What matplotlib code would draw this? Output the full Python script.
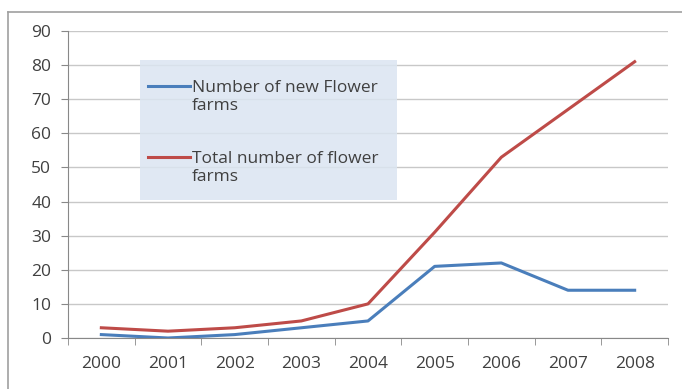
import matplotlib
matplotlib.use("Agg")
import matplotlib.pyplot as plt
from matplotlib.patches import Rectangle
from matplotlib.lines import Line2D
import numpy as np

years = ["2000", "2001", "2002", "2003", "2004", "2005", "2006", "2007", "2008"]
new_farms = [1, 0, 1, 3, 5, 21, 22, 14, 14]
total_farms = [3, 2, 3, 5, 10, 31, 53, 67, 81]
labels = ["Number of new Flower\nfarms", "Total number of flower\nfarms"]
colors = ["#4a7ebb", "#be4b48"]

plt.rcParams['font.family'] = ['Open Sans', 'DejaVu Sans']

W, H = 682, 389
fig = plt.figure(figsize=(W / 100, H / 100), dpi=100)
ax = fig.add_axes([68 / W, 1 - 338 / H, 600 / W, 307 / H])

x = np.arange(len(years))
for vals, col in zip([new_farms, total_farms], colors):
    ax.plot(x, vals, color=col, lw=2.2, zorder=3)

ax.set_xlim(-0.5, len(years) - 0.5)
ax.set_ylim(0, 90)
ax.set_yticks(np.arange(0, 91, 10))
ax.set_xticks(x)
ax.set_xticklabels(years)
ax.set_xticks(np.arange(-0.5, len(years), 1), minor=True)
ax.tick_params(axis="x", which="major", length=0, pad=13, labelsize=12.5, colors="#404040")
ax.tick_params(axis="x", which="minor", length=5, color="#888888")
ax.tick_params(axis="y", length=5, color="#888888", pad=7, labelsize=12.5, colors="#404040")

ax.yaxis.grid(True, color="#c8c8c8", lw=1)
ax.set_axisbelow(True)
for side in ("top", "right"):
    ax.spines[side].set_visible(False)
for side in ("left", "bottom"):
    ax.spines[side].set_color("#888888")

# legend: light blue box with hand placed entries
ax.add_patch(Rectangle((0.12, 0.4495), 0.428, 0.456, transform=ax.transAxes,
                       facecolor="#dbe5f1", edgecolor="none", alpha=0.85, zorder=0.8))
for i, (lab, col) in enumerate(zip(labels, colors)):
    ly = 1 - (86 + 71 * i) / H
    fig.add_artist(Line2D([148 / W, 190 / W], [ly, ly], color=col, lw=2.2))
    # multi-line baseline aligns the last line, so drop by one line
    fig.text(192 / W, ly - 24 / H, lab, fontsize=12.5, color="#404040",
             va="baseline", ha="left", linespacing=1.2)

# outer chart border
fig.add_artist(Line2D([8 / W, 8 / W], [0, 1 - 12 / H], color="#a0a0a0", lw=1.2))
fig.add_artist(Line2D([8 / W, 1], [1 - 12 / H, 1 - 12 / H], color="#a0a0a0", lw=1.2))

fig.savefig("out.png", dpi=100)
